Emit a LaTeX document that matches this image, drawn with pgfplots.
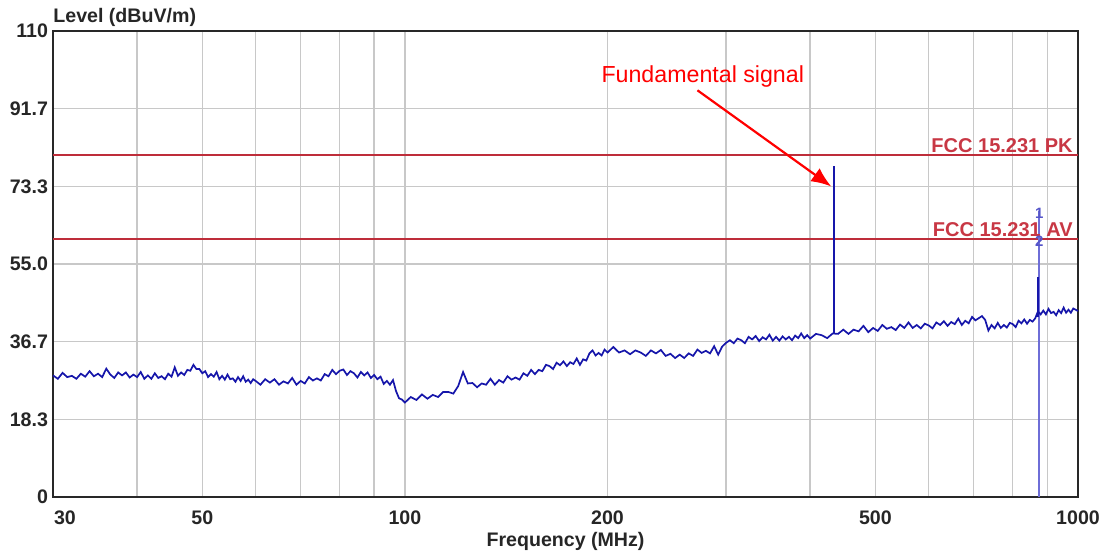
\documentclass[border=0pt]{standalone}
\usepackage{pgfplots}
\pgfplotsset{compat=1.18}
\usepackage{pgfplotstable}
\usetikzlibrary{arrows.meta}
\usepackage{fontspec}
\setmainfont{Liberation Sans}

\definecolor{trace}{RGB}{22,22,170}
\definecolor{markerline}{RGB}{110,110,215}
\definecolor{limitline}{RGB}{190,45,58}
\definecolor{limittext}{RGB}{200,55,68}
\definecolor{gridgray}{RGB}{200,200,200}
\definecolor{frame}{RGB}{40,40,40}

% Scan: frequency (MHz), level (dBuV/m)
\pgfplotstableread{
f lvl
30 28.7
30.5 27.9
31 29.3
31.5 28.3
32 28.6
32.5 27.9
33 29.1
33.5 28.4
34 29.7
34.5 28.5
35 29.1
35.5 28.3
36 30.3
36.5 28.9
37 28.1
37.5 29.4
38 28.7
38.5 29.4
39 28.2
39.5 28.9
40 28.3
40.5 29.5
41 27.9
41.5 28.7
42 27.9
42.5 29.2
43 28.1
43.5 28.5
44 27.8
44.5 29.1
45 28.4
45.5 30.6
46 28.6
46.5 29.4
47 28.8
47.5 30.0
48 29.8
48.5 31.2
49 30.2
49.5 30.2
50 29.2
50.5 29.7
51 28.3
51.5 29.0
52 28.4
52.5 29.5
53 27.8
53.5 28.6
54 27.7
54.5 28.9
55 27.8
55.5 28.0
56 27.2
56.5 28.3
57 27.4
57.5 28.5
58 27.2
58.5 27.7
59 26.9
59.5 27.8
60 27.4
61 26.5
62 27.8
63 27.0
64 27.8
65 26.5
66 27.3
67 26.8
68 28.1
69 26.5
70 27.4
71 26.8
72 28.3
73 27.5
74 28.0
75 27.5
76 29.0
77 28.5
78 30.0
79 29.0
80 29.8
81 30.1
82 28.8
83 29.7
84 29.2
85 28.2
86 29.5
87 28.7
88 29.4
89 28.1
90 28.8
91 27.8
92 28.4
93 26.7
94 27.4
95 26.5
96 27.6
97 25.0
98 23.3
99 23.0
100 22.3
102 23.6
104 22.9
106 24.2
108 23.2
110 24.1
112 23.6
114 24.8
116 24.8
118 24.4
120 26.2
122 29.5
124 26.8
126 26.9
128 25.9
130 26.8
132 26.5
134 27.9
136 26.5
138 27.6
140 27.0
142 28.5
144 27.7
146 28.2
148 27.7
150 29.2
152 28.6
154 30.0
156 29.0
158 30.0
160 29.7
162 31.2
164 30.9
166 30.2
168 31.7
170 31.1
172 32.0
174 30.9
176 31.8
178 31.4
180 32.7
182 31.2
184 32.5
186 32.2
188 33.9
190 34.6
192 33.4
194 34.0
196 33.4
198 34.8
200 34.1
204 35.4
208 34.1
212 34.6
216 33.7
220 34.6
224 34.1
228 33.3
232 34.6
236 33.9
240 34.7
244 33.3
248 33.8
252 32.8
256 33.6
260 32.8
264 33.9
268 33.3
272 34.8
276 34.0
280 34.5
284 33.9
288 35.6
292 33.6
296 35.5
300 36.4
304 37.0
308 36.3
312 37.4
316 37.0
320 36.3
324 37.8
328 37.2
332 38.0
336 36.8
340 37.7
344 37.2
348 38.3
352 36.9
356 37.8
360 36.9
364 37.9
368 37.2
372 37.8
376 37.0
380 38.1
384 37.5
388 38.6
392 37.5
396 38.2
400 37.4
408 38.5
416 38.2
424 37.5
432 38.6
440 38.5
448 39.5
456 38.5
464 39.5
472 39.1
480 40.4
488 38.9
496 39.9
504 39.2
512 40.6
520 39.7
528 40.1
536 39.4
544 40.7
552 39.9
560 41.2
568 39.9
576 40.6
584 39.8
592 40.9
600 40.5
608 39.8
616 41.2
624 40.6
632 41.5
640 40.4
648 41.3
656 40.8
664 42.1
672 40.6
680 41.6
688 41.0
696 42.5
704 41.7
712 42.2
720 42.7
728 41.8
736 39.3
744 40.6
752 39.8
760 41.1
768 39.9
776 40.6
784 40.0
792 41.1
800 40.8
808 40.1
816 41.6
824 41.0
832 41.9
840 40.9
848 41.8
856 41.4
864 42.2
872 43.8
880 43.1
888 44.0
896 43.1
904 44.4
912 43.4
920 43.7
928 42.9
936 44.1
944 43.4
952 44.7
960 43.5
968 44.2
976 43.5
984 44.5
992 44.2
1000 43.9
}\scan

\begin{document}
\begin{tikzpicture}
\useasboundingbox (-26.5pt,-29pt) rectangle (525.5pt,248.5pt);
\begin{axis}[
  scale only axis,
  width=512.5pt, height=233pt,
  xmode=log, log basis x=10,
  xmin=30, xmax=1000, ymin=0, ymax=110,
  clip=false,
  xtick={50,100,200,500,1000},
  xticklabels={50,100,200,500,1000},
  extra x ticks={30},
  extra x tick labels={30},
  extra x tick style={grid=none, xticklabel style={anchor=north west, xshift=-3pt}},
  minor xtick={40,60,70,80,90,300,400,600,700,800,900},
  ytick={0,18.3333,36.6667,55,73.3333,91.6667,110},
  yticklabels={0,18.3,36.7,55.0,73.3,91.7,110},
  grid=both,
  major grid style={draw=gridgray, line width=0.7pt},
  minor grid style={draw=gridgray, line width=0.7pt},
  major tick length=0pt, minor tick length=0pt,
  axis line style={draw=frame, line width=1pt},
  tick label style={font=\fontsize{9.8}{11}\selectfont\bfseries, text=black!85},
  xticklabel style={yshift=-3.5pt},
  yticklabel style={xshift=1pt},
  /pgf/number format/assume math mode=true,
]
  % limit lines
  \addplot[limitline, line width=1pt] coordinates {(30,80.8) (1000,80.8)};
  \addplot[limitline, line width=1pt] coordinates {(30,60.8) (1000,60.8)};

  % marker line at the second harmonic
  \addplot[markerline, line width=1.1pt] coordinates {(876,0) (876,67.5)};

  % measured trace
  \addplot[trace, line width=0.85pt] table[x=f, y=lvl] {\scan};

  % fundamental and harmonic spikes
  \addplot[trace, line width=0.75pt] coordinates {(433.92,38.6) (433.92,78.1)};
  \addplot[trace, line width=1.3pt] coordinates {(433.92,38.6) (433.92,58.3)};
  \addplot[trace, line width=0.9pt] coordinates {(871,42.4) (871,52.0)};

  % limit labels
  \node[anchor=south east, text=limittext, font=\fontsize{10}{12}\selectfont\bfseries, inner sep=1pt]
    at (axis cs:990,80.8) {FCC 15.231 PK};
  \node[anchor=south east, text=limittext, font=\fontsize{10}{12}\selectfont\bfseries, inner sep=1pt]
    at (axis cs:990,60.8) {FCC 15.231 AV};

  % marker numbers
  \node[text=markerline!70!trace, font=\fontsize{7.5}{8}\selectfont\bfseries, inner sep=0pt]
    at (axis cs:876,67.0) {1};
  \node[text=markerline!70!trace, font=\fontsize{7.5}{8}\selectfont\bfseries, inner sep=0pt]
    at (axis cs:876,60.4) {2};

  % annotation
  \node[text=red, font=\fontsize{11.6}{13}\selectfont, inner sep=0pt] at (axis cs:277,99.3) {Fundamental signal};
  \draw[red, line width=1.1pt, -{Latex[length=10pt,width=8pt]}] (axis cs:272,96.0) -- (axis cs:430,73.3);

  % axis titles
  \node[anchor=base west, font=\fontsize{9.8}{11}\selectfont\bfseries, text=black!85, inner sep=0pt]
    at ([yshift=4pt]rel axis cs:0,1) {Level (dBuV/m)};
  \node[font=\fontsize{9.8}{11}\selectfont\bfseries, text=black!85, inner sep=0pt]
    at ([yshift=-22pt]rel axis cs:0.5,0) {Frequency (MHz)};
\end{axis}
\end{tikzpicture}
\end{document}
